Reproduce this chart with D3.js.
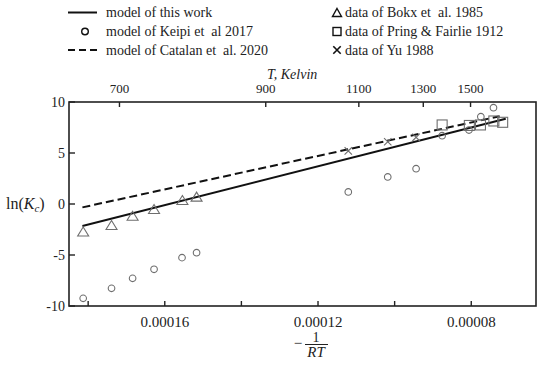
<!DOCTYPE html>
<html>
<head>
<meta charset="utf-8">
<script src="https://cdn.jsdelivr.net/npm/d3@7"></script>
<style>
  body { margin: 0; background: #fff; }
  svg { display: block; font-family: "Liberation Serif", "Times New Roman", serif; }
</style>
</head>
<body>
<svg width="550" height="368"></svg>
<script>
// -1/RT values (x) and ln(Kc) (y)
var keipiX = [0.0001813, 0.0001739, 0.0001684, 0.0001628, 0.0001555, 0.0001517, 0.0001121, 0.0001018, 0.0000944, 0.0000876, 0.0000806, 0.0000775, 0.0000742];
var keipiY = [-9.25, -8.27, -7.29, -6.40, -5.26, -4.77, 1.18, 2.65, 3.46, 6.70, 7.25, 8.56, 9.44];

var bokxX = [0.0001813, 0.0001739, 0.0001684, 0.0001628, 0.0001554, 0.0001517];
var bokxY = [-2.70, -2.06, -1.15, -0.49, 0.39, 0.72];

var pringX = [0.0000876, 0.0000805, 0.0000776, 0.0000741, 0.0000718];
var pringY = [7.75, 7.70, 7.75, 8.14, 8.01];

var yuX = [0.0001121, 0.0001018, 0.0000944];
var yuY = [5.20, 6.10, 6.54];

var thisWorkX = [0.0001815, 0.0000710];
var thisWorkY = [-2.15, 8.35];

var catalanX = [0.0001815, 0.0000726];
var catalanY = [-0.33, 8.60];

var bottomTicks = [0.00018, 0.00016, 0.00014, 0.00012, 0.00010, 0.00008];
var bottomLabels = ["", "0.00016", "", "0.00012", "", "0.00008"];
var topTicksT = [700, 900, 1100, 1300, 1500];
var yTicks = [10, 5, 0, -5, -10];

var R = 8.314;

// plot box (note: "top" is reserved on window, so use other names)
var pLeft = 69, pRight = 536, pTop = 102, pBottom = 306;

var x = d3.scaleLinear().domain([0.000185, 0.0000631]).range([pLeft, pRight]);
var y = d3.scaleLinear().domain([-10, 10]).range([pBottom, pTop]);

var svg = d3.select("svg");
var gray = "#6e6e6e";

// shapes
function triPath(w, h) {
  return "M0," + (-h / 2) + "L" + (w / 2) + "," + (h / 2) + "L" + (-w / 2) + "," + (h / 2) + "Z";
}
function drawMarker(g, kind, cx, cy) {
  var m = g.append("g").attr("transform", "translate(" + cx + "," + cy + ")")
    .attr("fill", "none").attr("stroke", gray).attr("stroke-width", 1.1);
  if (kind == "circle") m.append("circle").attr("r", 3.3);
  if (kind == "tri") m.append("path").attr("d", triPath(11, 9));
  if (kind == "square") m.append("rect").attr("x", -5).attr("y", -5).attr("width", 10).attr("height", 10);
  if (kind == "cross") m.append("path").attr("d", "M-3.7,-3.7L3.7,3.7M3.7,-3.7L-3.7,3.7");
  return m;
}

// frame
svg.append("rect")
  .attr("x", pLeft).attr("y", pTop)
  .attr("width", pRight - pLeft).attr("height", pBottom - pTop)
  .attr("fill", "none").attr("stroke", "#222").attr("stroke-width", 1.6);

// bottom axis (inward ticks)
var bAxis = svg.append("g");
bottomTicks.forEach(function(v, i) {
  bAxis.append("line").attr("x1", x(v)).attr("x2", x(v)).attr("y1", pBottom).attr("y2", pBottom - 5)
    .attr("stroke", "#222").attr("stroke-width", 1.4);
  if (bottomLabels[i])
    bAxis.append("text").attr("x", x(v)).attr("y", 327).attr("text-anchor", "middle")
      .attr("font-size", 15).attr("fill", "#222").text(bottomLabels[i]);
});

// top axis in Kelvin
var tAxis = svg.append("g");
topTicksT.forEach(function(T) {
  var px = x(1 / (R * T));
  tAxis.append("line").attr("x1", px).attr("x2", px).attr("y1", pTop).attr("y2", pTop + 5)
    .attr("stroke", "#222").attr("stroke-width", 1.4);
  tAxis.append("text").attr("x", px).attr("y", 93).attr("text-anchor", "middle")
    .attr("font-size", 13).attr("fill", "#222").text(T);
});

// left axis
var lAxis = svg.append("g");
yTicks.forEach(function(v) {
  lAxis.append("line").attr("x1", pLeft).attr("x2", pLeft + 6).attr("y1", y(v)).attr("y2", y(v))
    .attr("stroke", "#222").attr("stroke-width", 1.4);
  lAxis.append("text").attr("x", 65).attr("y", y(v)).attr("dy", "0.35em").attr("text-anchor", "end")
    .attr("font-size", 14).attr("fill", "#222").text(v);
});

// axis titles
svg.append("text").attr("x", 267).attr("y", 79).attr("font-size", 14).attr("font-style", "italic")
  .attr("fill", "#222").text("T, Kelvin");

var yt = svg.append("text").attr("x", 6).attr("y", 209).attr("font-size", 16).attr("fill", "#222");
yt.append("tspan").text("ln(");
yt.append("tspan").attr("font-style", "italic").text("K");
yt.append("tspan").attr("font-style", "italic").attr("font-size", 11).attr("dy", 3).text("c");
yt.append("tspan").attr("dy", -3).text(")");

var xt = svg.append("g").attr("fill", "#222");
xt.append("text").attr("x", 298).attr("y", 348).attr("text-anchor", "middle").attr("font-size", 15).text("\u2212");
xt.append("text").attr("x", 316).attr("y", 342).attr("text-anchor", "middle").attr("font-size", 14).text("1");
xt.append("line").attr("x1", 305).attr("x2", 328).attr("y1", 344.5).attr("y2", 344.5).attr("stroke", "#222").attr("stroke-width", 1);
xt.append("text").attr("x", 316).attr("y", 357).attr("text-anchor", "middle").attr("font-size", 15)
  .attr("font-style", "italic").text("RT");

// model lines
var line = d3.line().x(function(d) { return x(d[0]); }).y(function(d) { return y(d[1]); });
svg.append("path").datum(d3.zip(catalanX, catalanY)).attr("d", line)
  .attr("fill", "none").attr("stroke", "#111").attr("stroke-width", 2).attr("stroke-dasharray", "8,4");
svg.append("path").datum(d3.zip(thisWorkX, thisWorkY)).attr("d", line)
  .attr("fill", "none").attr("stroke", "#111").attr("stroke-width", 2);

// markers
var pts = svg.append("g");
d3.zip(keipiX, keipiY).forEach(function(d) { drawMarker(pts, "circle", x(d[0]), y(d[1])); });
d3.zip(bokxX, bokxY).forEach(function(d) { drawMarker(pts, "tri", x(d[0]), y(d[1])); });
d3.zip(yuX, yuY).forEach(function(d) { drawMarker(pts, "cross", x(d[0]), y(d[1])); });
d3.zip(pringX, pringY).forEach(function(d) { drawMarker(pts, "square", x(d[0]), y(d[1])); });

// legend
var lg = svg.append("g").attr("font-size", 14).attr("fill", "#222");
lg.append("line").attr("x1", 68).attr("x2", 97).attr("y1", 12.5).attr("y2", 12.5).attr("stroke", "#111").attr("stroke-width", 2);
lg.append("text").attr("x", 106).attr("y", 17).text("model of this work");
drawMarker(lg, "circle", 85, 31.5).attr("stroke", "#111").attr("stroke-width", 1.4);
lg.append("text").attr("x", 106).attr("y", 36).text("model of Keipi et  al 2017").style("white-space", "pre");
lg.append("line").attr("x1", 68).attr("x2", 97).attr("y1", 50).attr("y2", 50).attr("stroke", "#111")
  .attr("stroke-width", 2).attr("stroke-dasharray", "7,4");
lg.append("text").attr("x", 106).attr("y", 55).text("model of Catalan et  al. 2020").style("white-space", "pre");

drawMarker(lg, "tri", 337, 12.5).attr("stroke", "#111").attr("stroke-width", 1.4).select("path").attr("d", triPath(9, 8));
lg.append("text").attr("x", 345).attr("y", 17).text("data of Bokx et  al. 1985").style("white-space", "pre");
drawMarker(lg, "square", 337, 31.5).attr("stroke", "#111").attr("stroke-width", 1.4).select("rect")
  .attr("x", -4).attr("y", -4).attr("width", 8).attr("height", 8);
lg.append("text").attr("x", 345).attr("y", 36).text("data of Pring & Fairlie 1912");
drawMarker(lg, "cross", 337, 50).attr("stroke", "#111").attr("stroke-width", 1.6);
lg.append("text").attr("x", 345).attr("y", 55).text("data of Yu 1988");
</script>
</body>
</html>
